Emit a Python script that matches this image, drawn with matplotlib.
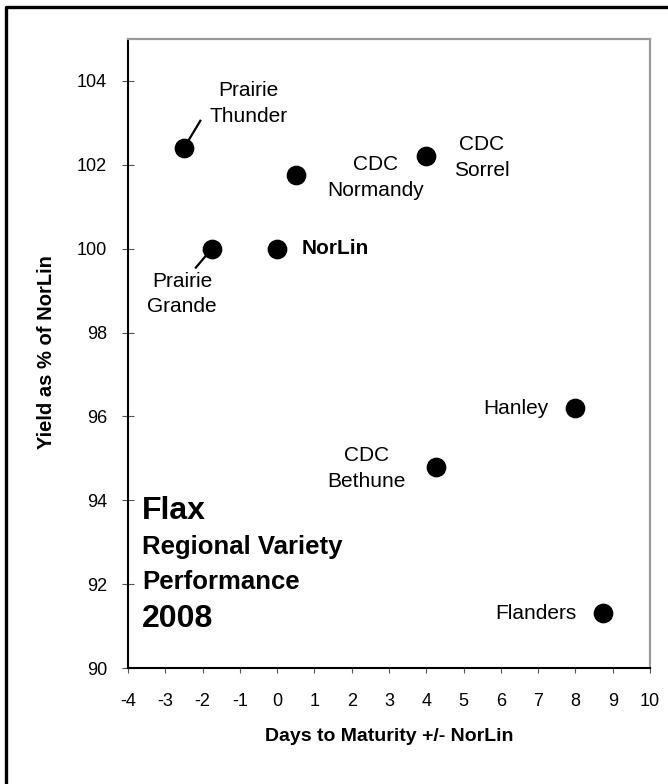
import matplotlib
matplotlib.use("Agg")
import matplotlib.pyplot as plt
from matplotlib.lines import Line2D

plt.rcParams['font.family'] = ['Liberation Sans', 'DejaVu Sans']

varieties = ["Prairie Thunder", "CDC Normandy", "Prairie Grande", "NorLin",
             "CDC Sorrel", "Hanley", "CDC Bethune", "Flanders"]
days = [-2.5, 0.5, -1.75, 0.0, 4.0, 8.0, 4.25, 8.75]
yield_pct = [102.4, 101.75, 100.0, 100.0, 102.2, 96.2, 94.8, 91.3]

x_ticks = list(range(-4, 11))
y_ticks = list(range(90, 105, 2))

fig = plt.figure(figsize=(6.68, 7.84), dpi=100)
ax = fig.add_axes([128/668, 1-668/784, (650-128)/668, (668-39)/784])

ax.plot(days, yield_pct, linestyle='none', marker='o', ms=13.2,
        color='black', zorder=3)

ax.set_xlim(-4, 10)
ax.set_ylim(90, 105)
ax.set_xticks(x_ticks)
ax.set_yticks(y_ticks)
ax.set_xticklabels([str(v) for v in x_ticks])
ax.set_yticklabels([str(v) for v in y_ticks])

for s in ['left', 'bottom']:
    ax.spines[s].set_color('black')
    ax.spines[s].set_linewidth(1.5)
for s in ['top', 'right']:
    ax.spines[s].set_color('#9a9a9a')
    ax.spines[s].set_linewidth(1.6)

ax.tick_params(axis='y', direction='inout', length=8.6, width=0.8,
               color='#555555', labelsize=13, pad=10.8)
ax.tick_params(axis='x', direction='out', length=3.6, width=0.8,
               color='#555555', labelsize=13, pad=14.5)

ax.set_xlabel("Days to Maturity +/- NorLin", fontsize=14, fontweight='bold')
ax.xaxis.set_label_coords(0.5, -0.095)
fig.text(47/668, 1-352/784, "Yield as % of NorLin", rotation=90,
         ha='center', va='center', fontsize=14.5, fontweight='bold')

lab = 15
ls = 1.45
# labels
ax.text(-0.76, 103.46, "Prairie\nThunder", ha='center', va='center',
        fontsize=lab, multialignment='center', linespacing=ls)
ax.plot([-2.5, -2.06], [102.4, 103.05], color='black', lw=1.6, zorder=2)
ax.text(-2.55, 98.92, "Prairie\nGrande", ha='center', va='center',
        fontsize=lab, multialignment='center', linespacing=ls)
ax.plot([-1.75, -2.18], [100.0, 99.55], color='black', lw=1.6, zorder=2)
ax.text(2.64, 101.69, "CDC\nNormandy", ha='center', va='center',
        fontsize=lab, multialignment='center', linespacing=ls)
ax.text(5.49, 102.17, "CDC\nSorrel", ha='center', va='center',
        fontsize=lab, multialignment='center', linespacing=ls)
ax.text(0.66, 100.0, "NorLin", ha='left', va='center', fontsize=lab,
        fontweight='bold')
ax.text(7.27, 96.2, "Hanley", ha='right', va='center', fontsize=lab)
ax.text(2.39, 94.75, "CDC\nBethune", ha='center', va='center',
        fontsize=lab, multialignment='center', linespacing=ls)
ax.text(8.04, 91.3, "Flanders", ha='right', va='center', fontsize=lab)

# title block
ax.text(-3.62, 93.56, "Flax", ha='left', va='baseline', fontsize=23,
        fontweight='bold')
ax.text(-3.62, 92.72, "Regional Variety", ha='left', va='baseline',
        fontsize=18.5, fontweight='bold')
ax.text(-3.62, 91.89, "Performance", ha='left', va='baseline',
        fontsize=18.5, fontweight='bold')
ax.text(-3.62, 90.97, "2008", ha='left', va='baseline', fontsize=23,
        fontweight='bold')

# figure border (top and left visible)
fig.add_artist(Line2D([6/668, 6/668, 1.0], [0.0, 1-7/784, 1-7/784],
                      transform=fig.transFigure, color='black', lw=2.4))

fig.savefig("out.png", dpi=100)
